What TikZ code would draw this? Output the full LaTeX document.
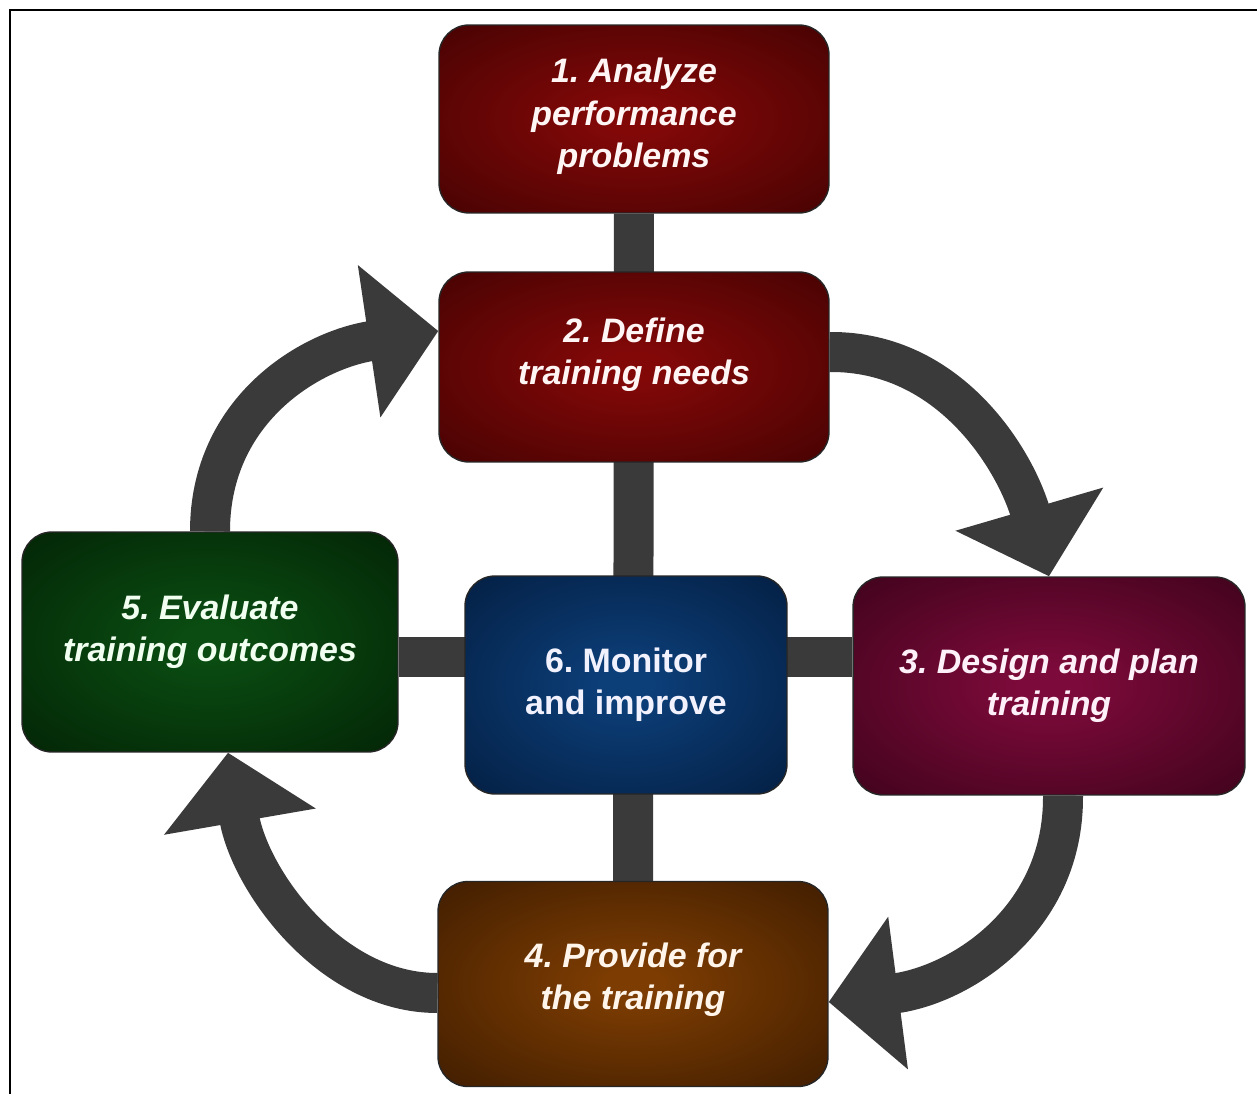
\documentclass[tikz,border=0pt]{standalone}
\usepackage{fontspec}
\setmainfont{Liberation Sans}
\usepackage{xcolor}
\usepackage{tikz}
\usetikzlibrary{arrows.meta,backgrounds}
\frenchspacing

\definecolor{linkgray}{HTML}{3A3A3A}
\definecolor{redin}{HTML}{820808}
\definecolor{redout}{HTML}{2E0000}
\definecolor{plumin}{HTML}{7C0A3A}
\definecolor{plumout}{HTML}{26000F}
\definecolor{brownin}{HTML}{7C3C02}
\definecolor{brownout}{HTML}{261000}
\definecolor{greenin}{HTML}{0A4C12}
\definecolor{greenout}{HTML}{001400}
\definecolor{bluein}{HTML}{0C3E78}
\definecolor{blueout}{HTML}{00122C}

\makeatletter
\pgfdeclareradialshading[tikz@radial@inner,tikz@radial@outer]{boxglow}{\pgfpoint{0bp}{0bp}}{%
  color(0bp)=(tikz@radial@inner); color(4bp)=(tikz@radial@inner);
  color(50bp)=(tikz@radial@outer)}
\makeatother

\tikzset{
  stepbox/.style={rectangle, rounded corners=0.6cm, draw=black!85, line width=0.8pt,
    align=center, font=\fontsize{19.3}{24}\selectfont\bfseries\itshape},
  glow/.style 2 args={inner color=#1, outer color=#2, shading=boxglow},
  bar/.style={draw=linkgray, line width=0.8cm},
  fatarrow/.style={draw=linkgray, line width=0.8cm,
    -{Triangle[width=3cm, length=1.4cm]}}
}

\begin{document}
\begin{tikzpicture}[x=0.02cm, y=-0.02cm]
        \useasboundingbox (0,0) rectangle (1257,1094);

        % Draw frame
        \draw[line width=1.2pt] (1257,10) -- (10,10) -- (10,1094);

        % Draw steps
        \node[stepbox, glow={redin}{redout}, text=red!4!white, text depth=0.25cm,
              minimum width=7.8cm, minimum height=3.76cm] (one) at (634,119)
              {1. Analyze\\performance\\problems};
        \node[stepbox, glow={redin}{redout}, text=red!4!white, text depth=0.62cm,
              minimum width=7.8cm, minimum height=3.8cm] (two) at (634,367)
              {2. Define\\training needs};
        \node[stepbox, glow={plumin}{plumout}, text=magenta!6!white,
              minimum width=7.84cm, minimum height=4.36cm] (three) at (1049,686)
              {3. Design and plan\\training};
        \node[stepbox, glow={brownin}{brownout}, text=orange!8!white, text depth=0.3cm,
              minimum width=7.8cm, minimum height=4.1cm] (four) at (633,984)
              {4. Provide for\\the training};
        \node[stepbox, glow={greenin}{greenout}, text=green!6!white, text depth=0.55cm,
              minimum width=7.52cm, minimum height=4.4cm] (five) at (210,642)
              {5. Evaluate\\training outcomes};
        \node[stepbox, glow={bluein}{blueout}, text=blue!5!white,
              font=\fontsize{19.3}{24}\selectfont\bfseries,
              minimum width=6.44cm, minimum height=4.36cm] (six) at (626,685)
              {6. Monitor\\and improve};

        \begin{pgfonlayer}{background}
        % Draw links
        \draw[bar] (one) -- (four);
        \draw[bar] ([yshift=-0.3cm]five.east) -- ([yshift=-0.3cm]five.east -| three.west);

        % Draw cycle arrows
        \draw[fatarrow] (five.north) .. controls (210,410) and (310,350) .. ([yshift=0.72cm]two.west);
        \draw[fatarrow] ([yshift=0.3cm]two.east) .. controls (950,351) and (1015,460) .. (three.north);
        \draw[fatarrow] ([xshift=0.28cm]three.south) .. controls (1064,920) and (960,985) .. ([yshift=-0.36cm]four.east);
        \draw[fatarrow] ([yshift=-0.18cm]four.west) .. controls (330,993) and (250,880) .. ([xshift=0.36cm]five.south);
        \end{pgfonlayer}
    \end{tikzpicture}
\end{document}
